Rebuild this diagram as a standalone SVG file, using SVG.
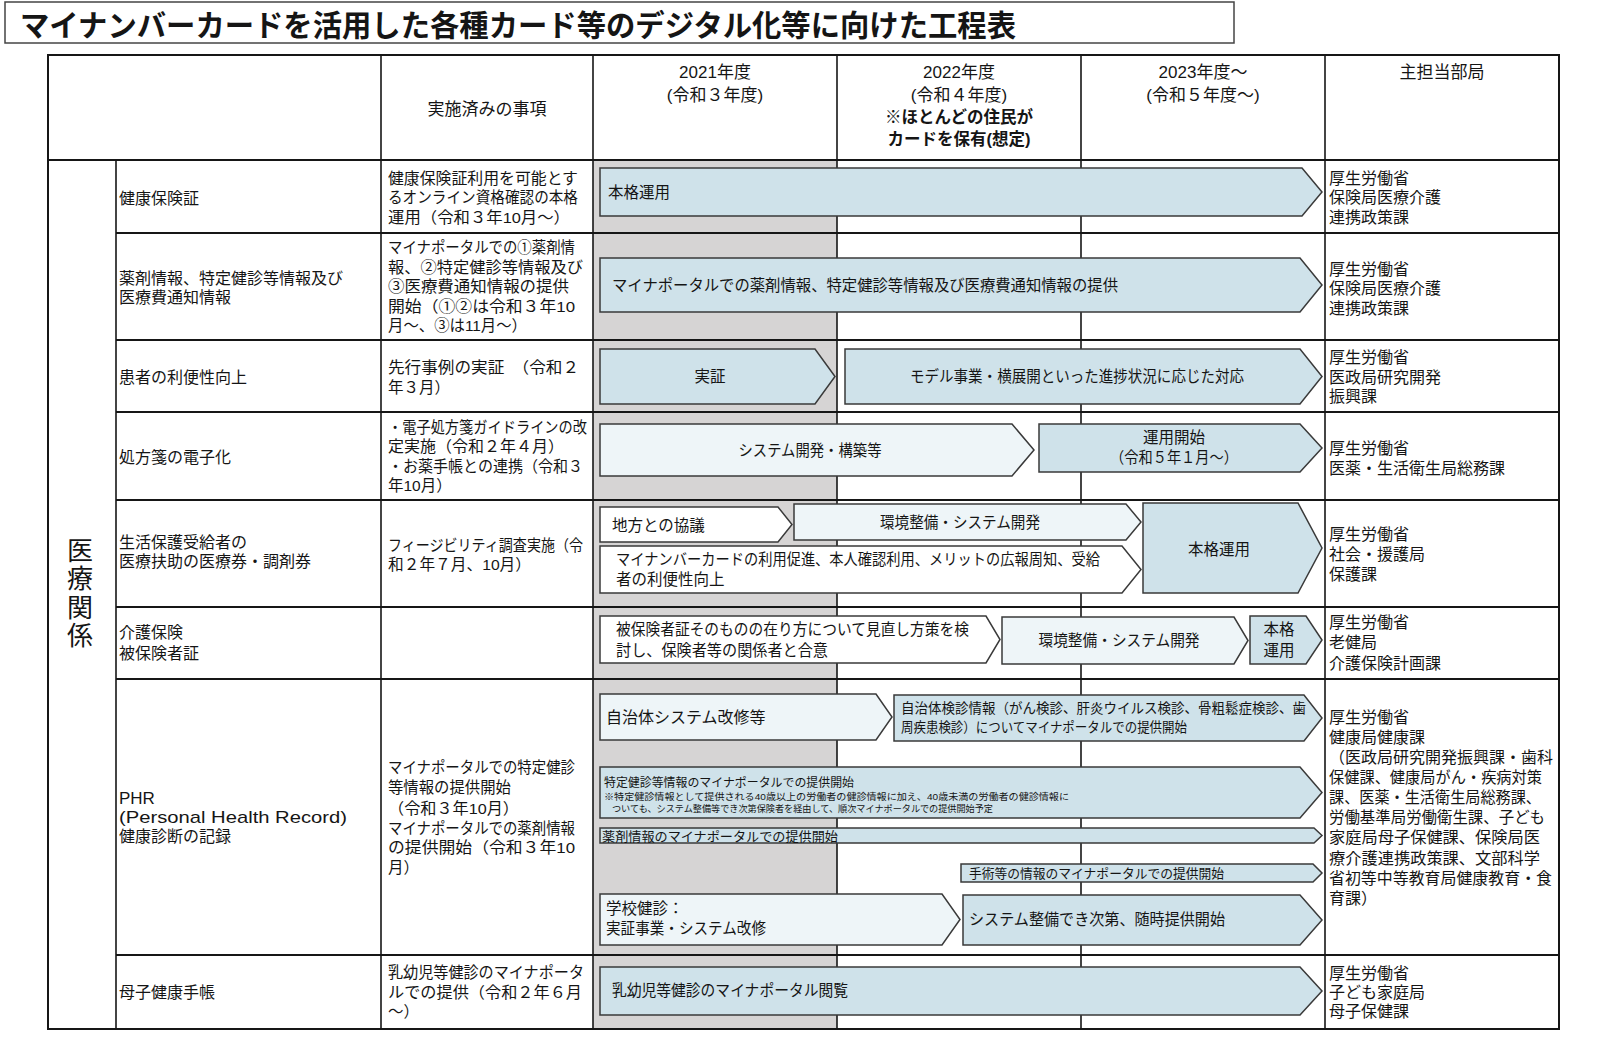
<svg xmlns="http://www.w3.org/2000/svg" width="1597" height="1037" viewBox="0 0 1597 1037">
<defs>
<style>
text{font-family:"Liberation Sans","Noto Sans CJK JP",sans-serif;fill:#151515;font-size:15.5px}
.b16{font-size:16px}
.hd{font-size:17px}
.hb{font-size:16.5px;font-weight:bold}
.rt{font-size:16px}
.ttl{font-size:30px;font-weight:bold}
.vt{font-size:26px;font-family:"Noto Sans CJK JP",sans-serif;writing-mode:vertical-rl;letter-spacing:2.5px}
.f14{font-size:14px}
.f13{font-size:13px}
.f12{font-size:12px}
.f9{font-size:9.5px}
.mid{text-anchor:middle}
.blue{fill:#cfe2ea;stroke:#3a3a3a;stroke-width:1.5}
.light{fill:#eef5f8;stroke:#3a3a3a;stroke-width:1.5}
.white{fill:#ffffff;stroke:#3a3a3a;stroke-width:1.5}
.grid{stroke:#161616;stroke-width:2;fill:none}
.vg{stroke:#161616;stroke-width:1.6;fill:none}
</style>
</defs>
<rect width="1597" height="1037" fill="#ffffff"/>

<g id="title">
<rect x="5" y="2" width="1229" height="41" fill="#ffffff" stroke="#444" stroke-width="1.5"/>
<text class="ttl" x="20" y="36" textLength="996" lengthAdjust="spacingAndGlyphs">マイナンバーカードを活用した各種カード等のデジタル化等に向けた工程表</text>
</g>

<g id="table">
<rect x="593" y="160" width="244" height="869" fill="#d6d4d4"/>
<rect class="grid" x="48" y="55" width="1511" height="974"/>
<line class="grid" x1="48" y1="160" x2="1559" y2="160"/>
<line class="grid" x1="116" y1="233" x2="1559" y2="233"/>
<line class="grid" x1="116" y1="340" x2="1559" y2="340"/>
<line class="grid" x1="116" y1="412" x2="1559" y2="412"/>
<line class="grid" x1="116" y1="500" x2="1559" y2="500"/>
<line class="grid" x1="116" y1="607" x2="1559" y2="607"/>
<line class="grid" x1="116" y1="679" x2="1559" y2="679"/>
<line class="grid" x1="116" y1="955" x2="1559" y2="955"/>
<line class="vg" x1="116" y1="160" x2="116" y2="1029"/>
<line class="vg" x1="381" y1="55" x2="381" y2="1029"/>
<line class="vg" x1="593" y1="55" x2="593" y2="1029"/>
<line class="vg" x1="837" y1="55" x2="837" y2="1029"/>
<line class="vg" x1="1081" y1="55" x2="1081" y2="1029"/>
<line class="vg" x1="1325" y1="55" x2="1325" y2="1029"/>
</g>

<g id="header">
<text class="hd mid" x="487" y="115">実施済みの事項</text>
<text class="hd mid"><tspan x="715" y="78">2021年度</tspan><tspan x="715" y="100.5">(令和３年度)</tspan></text>
<text class="hd mid"><tspan x="959" y="78">2022年度</tspan><tspan x="959" y="100.5">(令和４年度)</tspan><tspan class="hb" x="959" y="122.5">※ほとんどの住民が</tspan><tspan class="hb" x="959" y="144.5">カードを保有(想定)</tspan></text>
<text class="hd mid"><tspan x="1203" y="78">2023年度～</tspan><tspan x="1203" y="100.5">(令和５年度～)</tspan></text>
<text class="hd mid" x="1442" y="78">主担当部局</text>
</g>

<g id="category">
<text class="vt" x="80" y="537">医療関係</text>
</g>

<g id="row1">
<text class="b16" x="119" y="203.5">健康保険証</text>
<text><tspan x="388" y="183.5" textLength="190" lengthAdjust="spacingAndGlyphs">健康保険証利用を可能とす</tspan><tspan x="388" y="203" textLength="190" lengthAdjust="spacingAndGlyphs">るオンライン資格確認の本格</tspan><tspan x="388" y="222.5" textLength="182" lengthAdjust="spacingAndGlyphs">運用（令和３年10月～）</tspan></text>
<text class="rt"><tspan x="1329" y="183.8">厚生労働省</tspan><tspan x="1329" y="203.3">保険局医療介護</tspan><tspan x="1329" y="222.8">連携政策課</tspan></text>
</g>
<g id="a1">
<polygon class="blue" points="600,168 1302,168 1322,192 1302,216 600,216"/>
<text x="608" y="197.5">本格運用</text>
</g>

<g id="row2">
<text class="b16"><tspan x="119" y="283.5">薬剤情報、特定健診等情報及び</tspan><tspan x="119" y="303">医療費通知情報</tspan></text>
<text><tspan x="388" y="253" textLength="187" lengthAdjust="spacingAndGlyphs">マイナポータルでの①薬剤情</tspan><tspan x="388" y="272.5" textLength="195" lengthAdjust="spacingAndGlyphs">報、②特定健診等情報及び</tspan><tspan x="388" y="292" textLength="181" lengthAdjust="spacingAndGlyphs">③医療費通知情報の提供</tspan><tspan x="388" y="311.5" textLength="187" lengthAdjust="spacingAndGlyphs">開始（①②は令和３年10</tspan><tspan x="388" y="331" textLength="139" lengthAdjust="spacingAndGlyphs">月～、③は11月～）</tspan></text>
<text class="rt"><tspan x="1329" y="274.8">厚生労働省</tspan><tspan x="1329" y="294.3">保険局医療介護</tspan><tspan x="1329" y="313.8">連携政策課</tspan></text>
</g>
<g id="a2">
<polygon class="blue" points="600,258 1300,258 1322,285 1300,312 600,312"/>
<text x="612" y="291" textLength="506" lengthAdjust="spacingAndGlyphs">マイナポータルでの薬剤情報、特定健診等情報及び医療費通知情報の提供</text>
</g>

<g id="row3">
<text class="b16" x="119" y="382.5">患者の利便性向上</text>
<text><tspan x="388" y="373" textLength="191" lengthAdjust="spacingAndGlyphs">先行事例の実証　（令和２</tspan><tspan x="388" y="393">年３月）</tspan></text>
<text class="rt"><tspan x="1329" y="363.3">厚生労働省</tspan><tspan x="1329" y="382.8">医政局研究開発</tspan><tspan x="1329" y="402.3">振興課</tspan></text>
</g>
<g id="a3">
<polygon class="blue" points="600,349 815,349 835,376.5 815,404 600,404"/>
<text class="mid" x="710" y="382">実証</text>
</g>
<g id="a4">
<polygon class="blue" points="845,349 1300,349 1322,376.5 1300,404 845,404"/>
<text class="mid" x="1077" y="382" textLength="334" lengthAdjust="spacingAndGlyphs">モデル事業・横展開といった進捗状況に応じた対応</text>
</g>

<g id="row4">
<text class="b16" x="119" y="462.5">処方箋の電子化</text>
<text><tspan x="388" y="432.5" textLength="199" lengthAdjust="spacingAndGlyphs">・電子処方箋ガイドラインの改</tspan><tspan x="388" y="452" textLength="176" lengthAdjust="spacingAndGlyphs">定実施（令和２年４月）</tspan><tspan x="388" y="471.5" textLength="195" lengthAdjust="spacingAndGlyphs">・お薬手帳との連携（令和３</tspan><tspan x="388" y="491">年10月）</tspan></text>
<text class="rt"><tspan x="1329" y="453.8">厚生労働省</tspan><tspan x="1329" y="474.3">医薬・生活衛生局総務課</tspan></text>
</g>
<g id="a5">
<polygon class="light" points="600,424 1012,424 1034,450 1012,476 600,476"/>
<text class="mid" x="810" y="455.5" textLength="143" lengthAdjust="spacingAndGlyphs">システム開発・構築等</text>
</g>
<g id="a6">
<polygon class="blue" points="1039,424 1300,424 1322,448 1300,472 1039,472"/>
<text class="mid"><tspan x="1174" y="442.5">運用開始</tspan><tspan x="1174" y="462.5" textLength="128" lengthAdjust="spacingAndGlyphs">（令和５年１月～）</tspan></text>
</g>

<g id="row5">
<text class="b16"><tspan x="119" y="548">生活保護受給者の</tspan><tspan x="119" y="567">医療扶助の医療券・調剤券</tspan></text>
<text><tspan x="388" y="550.5" textLength="195" lengthAdjust="spacingAndGlyphs">フィージビリティ調査実施（令</tspan><tspan x="388" y="570" textLength="143" lengthAdjust="spacingAndGlyphs">和２年７月、10月）</tspan></text>
<text class="rt"><tspan x="1329" y="539.8">厚生労働省</tspan><tspan x="1329" y="559.8">社会・援護局</tspan><tspan x="1329" y="579.8">保護課</tspan></text>
</g>
<g id="a7">
<polygon class="white" points="600,507 778,507 792,524.5 778,542 600,542"/>
<text x="612" y="530.5">地方との協議</text>
</g>
<g id="a8">
<polygon class="light" points="794,504 1126,504 1141,522 1126,540 794,540"/>
<text class="mid" x="960" y="528" textLength="160" lengthAdjust="spacingAndGlyphs">環境整備・システム開発</text>
</g>
<g id="a9">
<polygon class="white" points="600,546 1122,546 1141,569.5 1122,593 600,593"/>
<text><tspan x="616" y="564.5" textLength="484" lengthAdjust="spacingAndGlyphs">マイナンバーカードの利用促進、本人確認利用、メリットの広報周知、受給</tspan><tspan x="616" y="585">者の利便性向上</tspan></text>
</g>
<g id="a10">
<polygon class="blue" points="1143,503 1298,503 1322,548 1298,593 1143,593"/>
<text class="mid" x="1219" y="554.5">本格運用</text>
</g>

<g id="row6">
<text class="b16"><tspan x="119" y="638">介護保険</tspan><tspan x="119" y="658.5">被保険者証</tspan></text>
<text class="rt"><tspan x="1329" y="627.8">厚生労働省</tspan><tspan x="1329" y="648.3">老健局</tspan><tspan x="1329" y="668.8">介護保険計画課</tspan></text>
</g>
<g id="a11">
<polygon class="white" points="600,616 986,616 1000,639.5 986,663 600,663"/>
<text><tspan x="616" y="634.5" textLength="353" lengthAdjust="spacingAndGlyphs">被保険者証そのものの在り方について見直し方策を検</tspan><tspan x="616" y="655.5" textLength="212" lengthAdjust="spacingAndGlyphs">討し、保険者等の関係者と合意</tspan></text>
</g>
<g id="a12">
<polygon class="light" points="1002,617 1234,617 1248,640.5 1234,664 1002,664"/>
<text class="mid" x="1119" y="646" textLength="161" lengthAdjust="spacingAndGlyphs">環境整備・システム開発</text>
</g>
<g id="a13">
<polygon class="blue" points="1250,616 1306,616 1322,640 1306,664 1250,664"/>
<text class="mid"><tspan x="1279" y="634.5">本格</tspan><tspan x="1279" y="655.5">運用</tspan></text>
</g>

<g id="row7">
<text class="hd"><tspan x="119" y="803.5">PHR</tspan><tspan x="119" y="823" textLength="228" lengthAdjust="spacingAndGlyphs">(Personal Health Record)</tspan><tspan class="b16" x="119" y="842">健康診断の記録</tspan></text>
<text><tspan x="388" y="773" textLength="187" lengthAdjust="spacingAndGlyphs">マイナポータルでの特定健診</tspan><tspan x="388" y="793" textLength="123" lengthAdjust="spacingAndGlyphs">等情報の提供開始</tspan><tspan x="388" y="813.5" textLength="131" lengthAdjust="spacingAndGlyphs">（令和３年10月）</tspan><tspan x="388" y="833.5" textLength="187" lengthAdjust="spacingAndGlyphs">マイナポータルでの薬剤情報</tspan><tspan x="388" y="853" textLength="187" lengthAdjust="spacingAndGlyphs">の提供開始（令和３年10</tspan><tspan x="388" y="873">月）</tspan></text>
<text class="rt"><tspan x="1329" y="723">厚生労働省</tspan><tspan x="1329" y="743">健康局健康課</tspan><tspan x="1329" y="763" textLength="224" lengthAdjust="spacingAndGlyphs">（医政局研究開発振興課・歯科</tspan><tspan x="1329" y="783" textLength="213" lengthAdjust="spacingAndGlyphs">保健課、健康局がん・疾病対策</tspan><tspan x="1329" y="803" textLength="212" lengthAdjust="spacingAndGlyphs">課、医薬・生活衛生局総務課、</tspan><tspan x="1329" y="823" textLength="216" lengthAdjust="spacingAndGlyphs">労働基準局労働衛生課、子ども</tspan><tspan x="1329" y="843" textLength="211" lengthAdjust="spacingAndGlyphs">家庭局母子保健課、保険局医</tspan><tspan x="1329" y="863.5" textLength="211" lengthAdjust="spacingAndGlyphs">療介護連携政策課、文部科学</tspan><tspan x="1329" y="883.5" textLength="223" lengthAdjust="spacingAndGlyphs">省初等中等教育局健康教育・食</tspan><tspan x="1329" y="903.5">育課）</tspan></text>
</g>
<g id="a14">
<polygon class="light" points="600,694 876,694 892,717 876,740 600,740"/>
<text class="b16" x="606" y="722.5">自治体システム改修等</text>
</g>
<g id="a15">
<polygon class="blue" points="894,695 1304,695 1322,718 1304,741 894,741"/>
<text class="f14"><tspan x="901" y="713" textLength="405" lengthAdjust="spacingAndGlyphs">自治体検診情報（がん検診、肝炎ウイルス検診、骨粗鬆症検診、歯</tspan><tspan x="901" y="732" textLength="286" lengthAdjust="spacingAndGlyphs">周疾患検診）についてマイナポータルでの提供開始</tspan></text>
</g>
<g id="a16">
<polygon class="blue" points="600,767 1300,767 1322,792.5 1300,818 600,818"/>
<text class="f12"><tspan x="604" y="786.5" textLength="250" lengthAdjust="spacingAndGlyphs">特定健診等情報のマイナポータルでの提供開始</tspan><tspan class="f9" x="604" y="800" textLength="465" lengthAdjust="spacingAndGlyphs">※特定健診情報として提供される40歳以上の労働者の健診情報に加え、40歳未満の労働者の健診情報に</tspan><tspan class="f9" x="612" y="812" textLength="381" lengthAdjust="spacingAndGlyphs">ついても、システム整備等でき次第保険者を経由して、順次マイナポータルでの提供開始予定</tspan></text>
</g>
<g id="a17">
<polygon class="blue" points="600,828 1314,828 1322,835.5 1314,843 600,843"/>
<text class="f13" x="602" y="840.5" textLength="236" lengthAdjust="spacingAndGlyphs">薬剤情報のマイナポータルでの提供開始</text>
</g>
<g id="a18">
<polygon class="blue" points="961,864 1313,864 1322,873 1313,882 961,882"/>
<text class="f13" x="969" y="877.7" textLength="255" lengthAdjust="spacingAndGlyphs">手術等の情報のマイナポータルでの提供開始</text>
</g>
<g id="a19">
<polygon class="light" points="600,894 942,894 960,919.5 942,945 600,945"/>
<text><tspan x="606" y="913.5">学校健診：</tspan><tspan x="606" y="933.5" textLength="160" lengthAdjust="spacingAndGlyphs">実証事業・システム改修</tspan></text>
</g>
<g id="a20">
<polygon class="blue" points="963,895 1300,895 1322,920 1300,945 963,945"/>
<text x="969" y="925" textLength="256" lengthAdjust="spacingAndGlyphs">システム整備でき次第、随時提供開始</text>
</g>

<g id="row8">
<text class="b16" x="119" y="997.5">母子健康手帳</text>
<text><tspan x="388" y="978" textLength="196" lengthAdjust="spacingAndGlyphs">乳幼児等健診のマイナポータ</tspan><tspan x="388" y="997.5" textLength="194" lengthAdjust="spacingAndGlyphs">ルでの提供（令和２年６月</tspan><tspan x="388" y="1017">～）</tspan></text>
<text class="rt"><tspan x="1329" y="978.5">厚生労働省</tspan><tspan x="1329" y="997.8">子ども家庭局</tspan><tspan x="1329" y="1016.8">母子保健課</tspan></text>
</g>
<g id="a21">
<polygon class="blue" points="600,967 1300,967 1322,991 1300,1015 600,1015"/>
<text x="612" y="996" textLength="236" lengthAdjust="spacingAndGlyphs">乳幼児等健診のマイナポータル閲覧</text>
</g>

<g id="connectors"/>
</svg>
